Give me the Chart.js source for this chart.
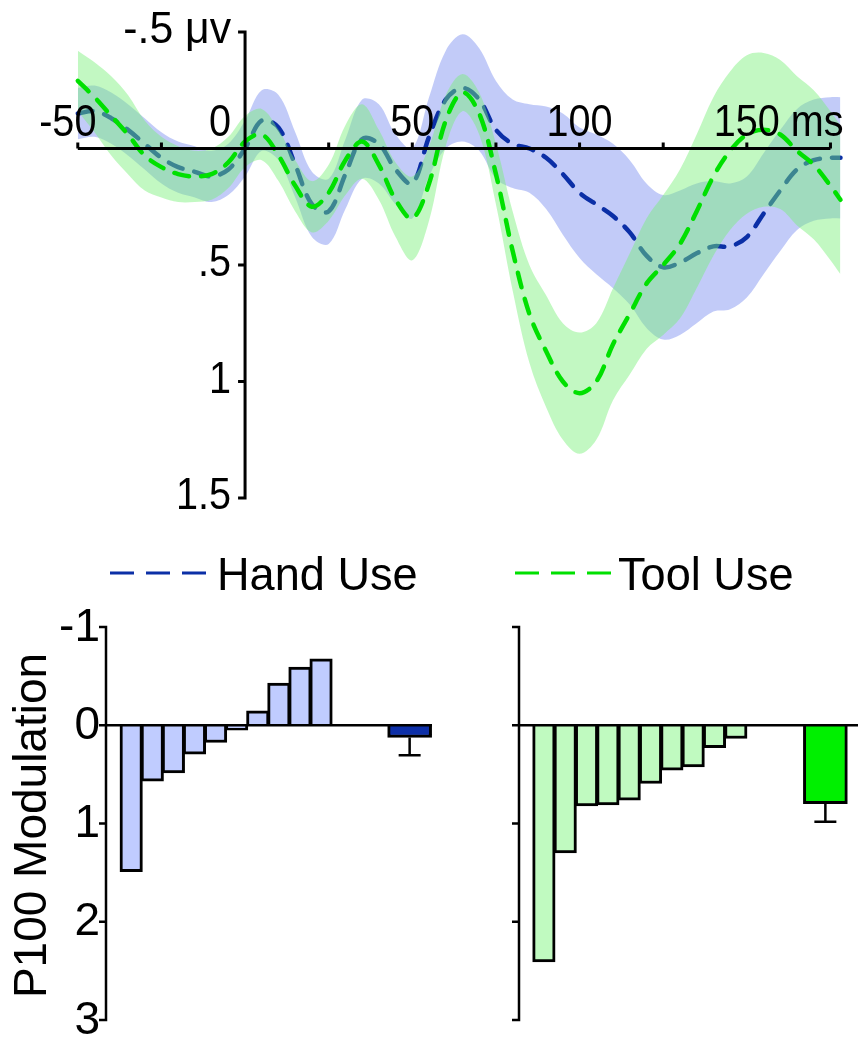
<!DOCTYPE html>
<html>
<head>
<meta charset="utf-8">
<script src="https://cdn.jsdelivr.net/npm/chart.js@4.4.1/dist/chart.umd.min.js"></script>
<style>
  html, body { margin: 0; padding: 0; background: #fff; }
  #wrap { position: relative; width: 863px; height: 1040px; overflow: hidden; }
  canvas { position: absolute; }
</style>
</head>
<body>
<div id="wrap">
  <canvas id="erp" width="863" height="600" style="left:0;top:0"></canvas>
  <canvas id="barHand" width="440" height="440" style="left:0;top:600px"></canvas>
  <canvas id="barTool" width="423" height="440" style="left:440px;top:600px"></canvas>
</div>
<script>
// ERP waveforms (µV, negative up) + P100 modulation per subject
const timeMs = [-50,-45,-40,-35,-30,-25,-20,-15,-10,-5,0,5,10,15,20,25,30,35,40,45,50,55,60,65,70,75,80,85,90,95,100,105,110,115,120,125,130,135,140,145,150,155,160,165,170,175,178];
const handMean = [-0.15,-0.16,-0.13,-0.08,-0.02,0.04,0.08,0.10,0.12,0.09,0.00,-0.12,-0.09,0.07,0.24,0.27,0.11,-0.04,-0.02,0.09,0.15,-0.05,-0.21,-0.26,-0.21,-0.08,-0.02,0.00,0.04,0.11,0.19,0.24,0.29,0.36,0.46,0.51,0.49,0.45,0.42,0.42,0.38,0.28,0.18,0.09,0.05,0.04,0.04];
const handSE = [0.11,0.11,0.11,0.11,0.11,0.11,0.11,0.11,0.11,0.11,0.12,0.13,0.14,0.14,0.14,0.14,0.15,0.17,0.17,0.15,0.15,0.17,0.21,0.23,0.22,0.21,0.19,0.19,0.22,0.26,0.28,0.30,0.31,0.31,0.31,0.31,0.31,0.30,0.28,0.27,0.26,0.26,0.26,0.26,0.26,0.26,0.26];
const toolMean = [-0.29,-0.22,-0.14,-0.06,0.03,0.08,0.11,0.12,0.11,0.06,-0.03,-0.06,0.03,0.16,0.25,0.19,0.05,-0.03,0.07,0.22,0.30,0.15,-0.12,-0.24,-0.15,0.11,0.44,0.71,0.87,1.00,1.05,1.00,0.84,0.71,0.58,0.50,0.41,0.27,0.12,0.01,-0.06,-0.08,-0.06,0.01,0.07,0.16,0.22];
const toolSE = [0.13,0.15,0.17,0.17,0.15,0.13,0.12,0.11,0.11,0.11,0.11,0.11,0.11,0.11,0.11,0.12,0.15,0.16,0.15,0.16,0.18,0.16,0.11,0.08,0.09,0.13,0.17,0.21,0.24,0.25,0.26,0.25,0.24,0.26,0.28,0.30,0.32,0.33,0.34,0.34,0.34,0.33,0.32,0.32,0.32,0.32,0.32];

const erpXTicks = [-50, 0, 50, 100, 150];
const erpXMinor = [-50, -25, 0, 25, 50, 75, 100, 125, 150, 175];
const erpYTicks = [-0.5, 0, 0.5, 1, 1.5];
const erpYLabels = ["-.5 μv", "", ".5", "1", "1.5"];

const subjects = [1, 2, 3, 4, 5, 6, 7, 8, 9, 10];
const handBars = [1.49, 0.57, 0.485, 0.295, 0.176, 0.05, -0.146, -0.43, -0.593, -0.675];
const toolBars = [2.41, 1.30, 0.82, 0.81, 0.763, 0.593, 0.458, 0.424, 0.227, 0.135];
const handAvg = 0.125, handAvgSE = 0.18;
const toolAvg = 0.797, toolAvgSE = 0.185;
const avgPos = 14.2;
const barYTicks = [-1, 0, 1, 2, 3];

const FONT = '"Liberation Sans", Arial, Helvetica, sans-serif';
const HAND_LINE = "#0b2fa6", TOOL_LINE = "#00e000";
const HAND_FILL = "rgba(120,140,240,0.45)", TOOL_FILL = "rgba(120,240,120,0.45)";

Chart.defaults.font.family = FONT;

const pts = (vals) => vals.map((v, i) => ({ x: timeMs[i], y: v }));
const band = (mean, se, sign) => mean.map((m, i) => ({ x: timeMs[i], y: m + sign * se[i] }));

// текст чуть уже обычного Arial, как в исходнике
function label(ctx, s, x, y, align, size, sx) {
  ctx.save();
  ctx.font = size + "px " + FONT;
  ctx.translate(x, y);
  ctx.scale(sx, 1);
  ctx.textAlign = align;
  ctx.fillText(s, 0, 0);
  ctx.restore();
}

// оси, подписи и легенда рисуются поверх, по шкалам графика
const erpAxes = {
  id: "erpAxes",
  afterDatasetsDraw(chart) {
    const { ctx, scales: { x, y } } = chart;
    const x0 = x.getPixelForValue(0), y0 = y.getPixelForValue(0);
    ctx.save();
    ctx.strokeStyle = "#000";
    ctx.lineWidth = 3;
    ctx.beginPath();
    ctx.moveTo(x.getPixelForValue(-50), y0);
    ctx.lineTo(x.getPixelForValue(175), y0);
    for (const t of erpXMinor) {
      const px = x.getPixelForValue(t);
      ctx.moveTo(px, y0);
      ctx.lineTo(px, y0 - 6);
    }
    ctx.moveTo(x0, y.getPixelForValue(-0.5) - 1.5);
    ctx.lineTo(x0, y.getPixelForValue(1.5) + 1.5);
    for (const t of erpYTicks) {
      const py = y.getPixelForValue(t);
      ctx.moveTo(x0 - 7, py);
      ctx.lineTo(x0, py);
    }
    ctx.stroke();

    ctx.fillStyle = "#000";
    ctx.textBaseline = "alphabetic";
    const FS = 45, SX = 0.88;
    for (const t of erpXTicks) {
      const px = x.getPixelForValue(t);
      const txt = String(t);
      if (t === 0) label(ctx, txt, px - 14, y0 - 13, "right", FS, SX);
      else if (t === -50) label(ctx, txt, px - 10, y0 - 13, "center", FS, SX);
      else if (t === 150) {
        ctx.font = FS + "px " + FONT;
        label(ctx, txt + " ms", px - ctx.measureText(txt).width * SX / 2, y0 - 13, "left", FS, SX);
      } else label(ctx, txt, px, y0 - 13, "center", FS, SX);
    }
    ctx.textBaseline = "middle";
    erpYTicks.forEach((t, i) => {
      if (erpYLabels[i]) label(ctx, erpYLabels[i], x0 - 14, y.getPixelForValue(t) - 1, "right", FS, i === 0 ? 0.95 : SX);
    });

    // легенда
    ctx.lineWidth = 3;
    ctx.setLineDash([24, 12]);
    ctx.strokeStyle = HAND_LINE;
    ctx.beginPath(); ctx.moveTo(110, 573); ctx.lineTo(206, 573); ctx.stroke();
    ctx.strokeStyle = TOOL_LINE;
    ctx.beginPath(); ctx.moveTo(515, 573); ctx.lineTo(613, 573); ctx.stroke();
    ctx.setLineDash([]);
    ctx.textBaseline = "alphabetic";
    label(ctx, "Hand Use", 217, 590, "left", 47, 0.96);
    label(ctx, "Tool Use", 618, 590, "left", 47, 0.96);
    ctx.restore();
  },
};

const lineStyle = { borderWidth: 4.5, borderDash: [15, 12], borderCapStyle: "round", fill: false, clip: false };
const edgeStyle = { borderWidth: 0, borderColor: "transparent", clip: false };

new Chart(document.getElementById("erp"), {
  type: "line",
  data: {
    datasets: [
      { label: "Tool Use", data: pts(toolMean), borderColor: TOOL_LINE, order: 0, ...lineStyle },
      { data: band(toolMean, toolSE, -1), order: 1, fill: false, ...edgeStyle },
      { data: band(toolMean, toolSE, 1), order: 1, fill: 1, backgroundColor: TOOL_FILL, ...edgeStyle },
      { label: "Hand Use", data: pts(handMean), borderColor: HAND_LINE, order: 2, ...lineStyle },
      { data: band(handMean, handSE, -1), order: 3, fill: false, ...edgeStyle },
      { data: band(handMean, handSE, 1), order: 3, fill: 4, backgroundColor: HAND_FILL, ...edgeStyle },
    ],
  },
  options: {
    responsive: false,
    animation: false,
    devicePixelRatio: 1,
    layout: { padding: { left: 77.8, right: 22.5, top: 32, bottom: 102 } },
    elements: { point: { radius: 0 }, line: { tension: 0.35 } },
    plugins: { legend: { display: false }, tooltip: { enabled: false } },
    scales: {
      x: { type: "linear", min: -50, max: 178, display: false },
      y: { min: -0.5, max: 1.5, reverse: true, display: false },
    },
  },
  plugins: [erpAxes],
});

const barAxes = {
  id: "barAxes",
  afterDatasetsDraw(chart, args, o) {
    const { ctx, chartArea, scales: { x, y } } = chart;
    const ax = chartArea.left;
    ctx.save();
    ctx.strokeStyle = "#000";
    ctx.lineWidth = 2.5;
    ctx.beginPath();
    ctx.moveTo(ax, y.getPixelForValue(0));
    ctx.lineTo(chartArea.right, y.getPixelForValue(0));
    ctx.moveTo(ax, y.getPixelForValue(-1) - 1.2);
    ctx.lineTo(ax, y.getPixelForValue(3) + 1.2);
    for (const t of barYTicks) {
      const py = y.getPixelForValue(t);
      ctx.moveTo(ax - 7, py);
      ctx.lineTo(ax, py);
    }
    // планка ошибки вниз от среднего
    const ex = x.getPixelForValue(avgPos);
    const eb = y.getPixelForValue(o.avg + o.se);
    ctx.moveTo(ex, y.getPixelForValue(o.avg));
    ctx.lineTo(ex, eb);
    ctx.moveTo(ex - 11, eb);
    ctx.lineTo(ex + 11, eb);
    ctx.stroke();

    if (o.labels) {
      ctx.fillStyle = "#000";
      ctx.textBaseline = "middle";
      for (const t of barYTicks) label(ctx, String(t), ax - 6, y.getPixelForValue(t) + 1, "right", 46, 1);
      ctx.translate(33, (y.getPixelForValue(-1) + y.getPixelForValue(3)) / 2 + 2);
      ctx.rotate(-Math.PI / 2);
      label(ctx, "P100 Modulation", 0, 0, "center", 46, 1);
    }
    ctx.restore();
  },
};

function barChart(id, values, avg, se, fill, avgFill, xMin, xMax, padLeft, padRight, labels) {
  return new Chart(document.getElementById(id), {
    type: "bar",
    data: {
      datasets: [
        {
          data: values.map((v, i) => ({ x: subjects[i], y: v })),
          backgroundColor: fill, borderColor: "#000", borderWidth: 3, barThickness: 22.5,
        },
        {
          data: [{ x: avgPos, y: avg }],
          backgroundColor: avgFill, borderColor: "#000", borderWidth: 3, barThickness: 44,
        },
      ],
    },
    options: {
      responsive: false,
      animation: false,
      devicePixelRatio: 1,
      grouped: false,
      layout: { padding: { left: padLeft, right: padRight, top: 27, bottom: 20 } },
      plugins: { legend: { display: false }, tooltip: { enabled: false }, barAxes: { avg, se, labels } },
      scales: {
        x: { type: "linear", offset: false, min: xMin, max: xMax, display: false },
        y: { min: -1, max: 3, reverse: true, display: false },
      },
    },
    plugins: [barAxes],
  });
}

barChart("barHand", handBars, handAvg, handAvgSE, "#c0ccff", "#0d2fa8", -0.194, 15.26, 106, 8, true);
barChart("barTool", toolBars, toolAvg, toolAvgSE, "#c0fac0", "#00f000", -0.167, 15.73, 79, 5, false);
</script>
</body>
</html>
